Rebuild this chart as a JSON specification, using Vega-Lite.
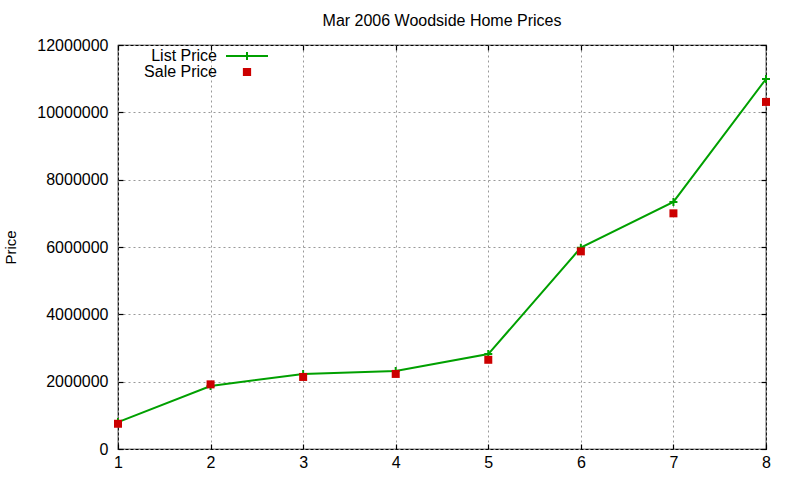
{
  "$schema": "https://vega.github.io/schema/vega-lite/v6.json",
  "width": 648,
  "height": 404,
  "autosize": "none",
  "padding": {"left": 118, "top": 45, "right": 34, "bottom": 31},
  "background": "white",
  "title": {
    "text": "Mar 2006 Woodside Home Prices",
    "font": "Liberation Sans",
    "fontSize": 16,
    "fontWeight": "normal",
    "color": "black",
    "offset": 8
  },
  "config": {
    "view": {"stroke": "black", "strokeWidth": 1.2},
    "axis": {
      "labelFont": "Liberation Sans",
      "labelFontSize": 16,
      "labelColor": "black",
      "labelFlush": false,
      "titleFont": "Liberation Sans",
      "titleFontSize": 15,
      "titleFontWeight": "normal",
      "titleColor": "black",
      "gridColor": "#999999",
      "gridDash": [2, 3],
      "gridWidth": 1,
      "domain": false,
      "ticks": true,
      "tickSize": -5,
      "tickColor": "black",
      "tickWidth": 1.2
    },
    "legend": {
      "orient": "none",
      "legendX": 121,
      "legendY": 3,
      "padding": 0,
      "labelFont": "Liberation Sans",
      "labelFontSize": 16,
      "labelColor": "black",
      "labelAlign": "right",
      "labelOffset": -38,
      "symbolSize": 64,
      "symbolStrokeWidth": 2,
      "symbolOpacity": 1,
      "rowPadding": 0
    }
  },
  "data": {
    "values": [
      {"n": 1, "series": "List Price", "price": 800000},
      {"n": 2, "series": "List Price", "price": 1870000},
      {"n": 3, "series": "List Price", "price": 2230000},
      {"n": 4, "series": "List Price", "price": 2320000},
      {"n": 5, "series": "List Price", "price": 2820000},
      {"n": 6, "series": "List Price", "price": 5980000},
      {"n": 7, "series": "List Price", "price": 7340000},
      {"n": 8, "series": "List Price", "price": 10990000},
      {"n": 1, "series": "Sale Price", "price": 750000},
      {"n": 2, "series": "Sale Price", "price": 1920000},
      {"n": 3, "series": "Sale Price", "price": 2140000},
      {"n": 4, "series": "Sale Price", "price": 2230000},
      {"n": 5, "series": "Sale Price", "price": 2650000},
      {"n": 6, "series": "Sale Price", "price": 5870000},
      {"n": 7, "series": "Sale Price", "price": 7000000},
      {"n": 8, "series": "Sale Price", "price": 10310000}
    ]
  },
  "resolve": {"axis": {"x": "independent", "y": "independent"}},
  "layer": [
    {
      "transform": [{"filter": "datum.series === 'List Price'"}],
      "mark": {"type": "line", "color": "#00a000", "strokeWidth": 2},
      "encoding": {
        "x": {
          "field": "n",
          "type": "quantitative",
          "scale": {"domain": [1, 8], "nice": false, "zero": false},
          "axis": {"title": null, "grid": true, "values": [1, 2, 3, 4, 5, 6, 7, 8], "format": "d", "labelPadding": 10}
        },
        "y": {
          "field": "price",
          "type": "quantitative",
          "scale": {"domain": [0, 12000000], "nice": false},
          "axis": {"title": "Price", "grid": true, "values": [0, 2000000, 4000000, 6000000, 8000000, 10000000, 12000000], "format": "d", "labelPadding": 15, "titlePadding": 18}
        }
      }
    },
    {
      "transform": [{"filter": "datum.series === 'List Price'"}],
      "mark": {"type": "point", "shape": "M-1,0H1M0,-1V1", "filled": false, "strokeWidth": 2, "size": 64, "opacity": 1, "color": "#00a000"},
      "encoding": {
        "x": {"field": "n", "type": "quantitative", "axis": null},
        "y": {"field": "price", "type": "quantitative", "axis": null}
      }
    },
    {
      "transform": [{"filter": "datum.series === 'Sale Price'"}],
      "mark": {"type": "square", "size": 64, "filled": true, "opacity": 1, "color": "#cc0000"},
      "encoding": {
        "x": {"field": "n", "type": "quantitative", "axis": null},
        "y": {"field": "price", "type": "quantitative", "axis": null}
      }
    },
    {
      "mark": {"type": "point", "filled": true, "opacity": 0, "strokeWidth": 2, "size": 64},
      "encoding": {
        "x": {
          "field": "n",
          "type": "quantitative",
          "axis": {"orient": "top", "title": null, "grid": false, "labels": false, "values": [1, 2, 3, 4, 5, 6, 7, 8]}
        },
        "y": {
          "field": "price",
          "type": "quantitative",
          "axis": {"orient": "right", "title": null, "grid": false, "labels": false, "values": [0, 2000000, 4000000, 6000000, 8000000, 10000000, 12000000]}
        },
        "fill": {
          "field": "series",
          "type": "nominal",
          "scale": {"domain": ["List Price", "Sale Price"], "range": ["#00a000", "#cc0000"]},
          "legend": {"title": null}
        },
        "stroke": {
          "field": "series",
          "type": "nominal",
          "scale": {"domain": ["List Price", "Sale Price"], "range": ["#00a000", "#cc0000"]},
          "legend": {"title": null}
        },
        "shape": {
          "field": "series",
          "type": "nominal",
          "scale": {"domain": ["List Price", "Sale Price"], "range": ["M-5.25,0H5.25M0,-1V1", "M-0.78,-0.78H0.78V0.78H-0.78Z"]},
          "legend": {"title": null}
        }
      }
    }
  ]
}
